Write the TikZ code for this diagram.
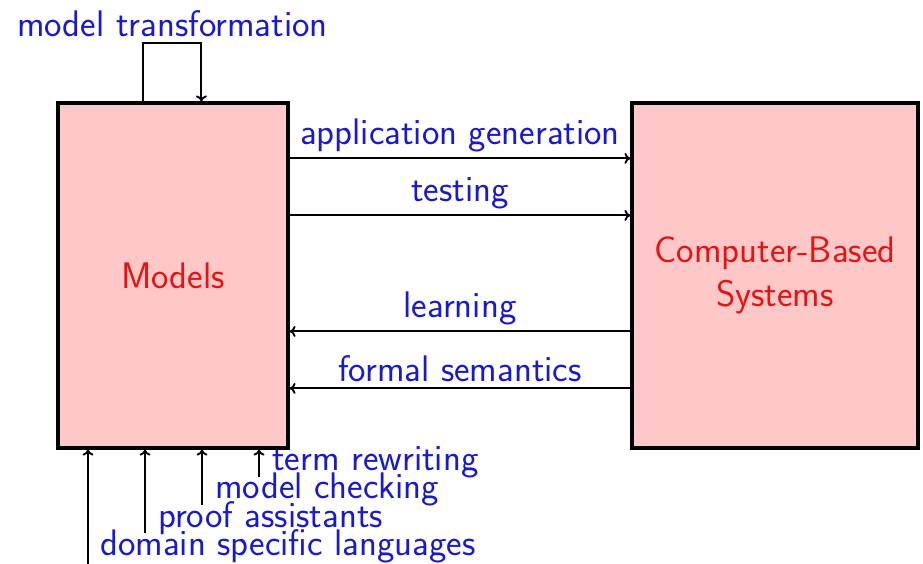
\documentclass[tikz,border=0pt]{standalone}
\usepackage{fontspec}
\usetikzlibrary{calc,arrows.meta}
\definecolor{lblblue}{RGB}{25,25,205}
\definecolor{boxred}{RGB}{228,20,20}
\definecolor{boxfill}{RGB}{255,200,200}
\begin{document}
\begin{tikzpicture}[x=1pt,y=-1pt,
  font=\sffamily\fontsize{37}{44}\selectfont,
  box/.style={draw=black, line width=3.2pt, fill=boxfill, text=boxred, align=center, inner sep=0pt},
  arr/.style={-{To[length=6pt,width=11pt]}, line width=1.9pt},
  lbl/.style={text=lblblue},
  albl/.style={lbl, above, yshift=2pt}]
\useasboundingbox (0,0) rectangle (923,563);
\node[box, minimum width=230, minimum height=345] (models) at (173,275.5) {Models};
\node[box, minimum width=286, minimum height=345] (cbs) at (775,275.5) {Computer-Based\\Systems};
% horizontal arrows
\draw[arr] ($(models.north east)+(0,57)$) -- node[albl] {application generation} ($(cbs.north west)+(0,57)$);
\draw[arr] ($(models.north east)+(0,114)$) -- node[albl] {testing} ($(cbs.north west)+(0,114)$);
\draw[arr] ($(cbs.north west)+(0,230)$) -- node[albl] {learning} ($(models.north east)+(0,230)$);
\draw[arr] ($(cbs.north west)+(0,287)$) -- node[albl] {formal semantics} ($(models.north east)+(0,287)$);
% loop
\draw[arr] ($(models.north west)+(87,0)$) -- ++(0,-58) -- node[albl] {model transformation} ++(58,0) -- ($(models.north west)+(145,0)$);
% bottom labels
\node[lbl, anchor=base west, inner sep=0pt] (tr) at (272,470) {term rewriting};
\node[lbl, anchor=base west, inner sep=0pt] (mc) at (215,498) {model checking};
\node[lbl, anchor=base west, inner sep=0pt] (pa) at (158,527) {proof assistants};
\node[lbl, anchor=base west, inner sep=0pt] (dsl) at (100,555) {domain specific languages};
\coordinate (s1) at (259,477);
\coordinate (s2) at (202,505);
\coordinate (s3) at (145,533);
\coordinate (s4) at (88,566);
\draw[arr] (s1) -- (s1 |- models.south);
\draw[arr] (s2) -- (s2 |- models.south);
\draw[arr] (s3) -- (s3 |- models.south);
\draw[arr] (s4) -- (s4 |- models.south);
\end{tikzpicture}
\end{document}
